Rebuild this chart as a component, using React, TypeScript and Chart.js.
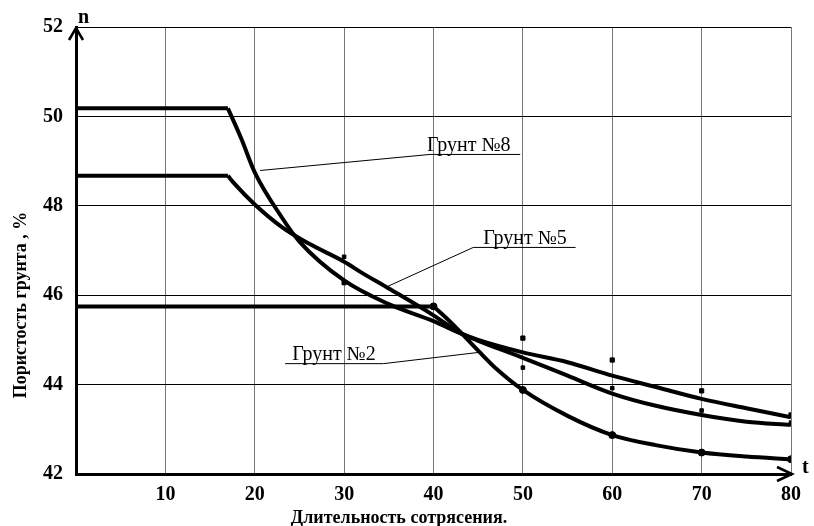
import React, { useEffect, useRef } from "react";
import { Chart, registerables } from "chart.js";

Chart.register(...registerables);

// Curve Грунт №8
const t8 = [0, 17, 18.5, 20, 23, 25, 30, 35, 40, 43, 45, 50, 55, 60, 65, 70, 75, 80];
const n8 = [50.18, 50.18, 49.5, 48.75, 47.75, 47.2, 46.33, 45.8, 45.42, 45.15, 45.0, 44.72, 44.5, 44.2, 43.94, 43.68, 43.47, 43.27];
// Curve Грунт №5
const t5 = [0, 17, 17.7, 20, 23, 26, 30, 32, 35, 40, 43, 45, 50, 55, 60, 65, 70, 75, 80];
const n5 = [48.67, 48.67, 48.5, 48.03, 47.53, 47.16, 46.75, 46.5, 46.15, 45.55, 45.15, 44.98, 44.6, 44.2, 43.8, 43.52, 43.32, 43.17, 43.1];
// Curve Грунт №2
const t2 = [0, 40, 42, 45, 47, 50, 55, 60, 65, 70, 75, 80];
const n2 = [45.75, 45.75, 45.38, 44.76, 44.36, 43.88, 43.3, 42.87, 42.64, 42.48, 42.39, 42.33];

// Measured points
const mt8 = [30, 50, 60, 70, 80];
const mn8 = [46.28, 45.04, 44.55, 43.86, 43.32];
const mt5 = [30, 50, 60, 70, 80];
const mn5 = [46.86, 44.38, 43.92, 43.42, 43.15];
const mt2 = [40, 50, 60, 70, 80];
const mn2 = [45.75, 43.88, 42.87, 42.48, 42.33];

const xTicks = [10, 20, 30, 40, 50, 60, 70, 80];
const yTicks = [42, 44, 46, 48, 50, 52];

const xTitle = "Длительность сотрясения.";
const yTitle = "Пористость грунта , %";

// Annotation labels
const labels = [
  { text: "Грунт №8", t0: 39.6, t1: 49.7, n: 49.16, tt: 20.6, tn: 48.79, from: "left", dx: -3 },
  { text: "Грунт №5", t0: 44.45, t1: 55.9, n: 47.08, tt: 34.8, tn: 46.19, from: "left", dx: 10 },
  { text: "Грунт №2", t0: 23.4, t1: 34.4, n: 44.48, tt: 45.05, tn: 44.72, from: "right", dx: 7 },
];

const zip = (xs: number[], ys: number[]) => xs.map((x, i) => ({ x, y: ys[i] }));

const decor = {
  id: "decor",
  afterDraw(chart: any) {
    const ctx = chart.ctx;
    const xs = chart.scales.x;
    const ys = chart.scales.y;
    const a = chart.chartArea;
    ctx.save();
    ctx.strokeStyle = "#000";
    ctx.fillStyle = "#000";
    ctx.lineWidth = 1;
    ctx.font = "20px 'Liberation Serif'";
    ctx.textBaseline = "alphabetic";
    for (const l of labels) {
      const x0 = xs.getPixelForValue(l.t0);
      const x1 = xs.getPixelForValue(l.t1);
      const y = ys.getPixelForValue(l.n);
      ctx.beginPath();
      ctx.moveTo(x0, y + 0.5);
      ctx.lineTo(x1, y + 0.5);
      ctx.stroke();
      const sx = l.from === "left" ? x0 : x1;
      ctx.beginPath();
      ctx.moveTo(sx, y + 0.5);
      ctx.lineTo(xs.getPixelForValue(l.tt), ys.getPixelForValue(l.tn));
      ctx.stroke();
      ctx.fillText(l.text, x0 + l.dx, y - 3);
    }
    ctx.lineWidth = 2.5;
    ctx.beginPath();
    ctx.moveTo(a.left - 7, a.top + 13);
    ctx.lineTo(a.left, a.top + 1);
    ctx.lineTo(a.left + 7, a.top + 13);
    ctx.stroke();
    ctx.beginPath();
    ctx.moveTo(a.right - 14, a.bottom - 7);
    ctx.lineTo(a.right + 1, a.bottom);
    ctx.lineTo(a.right - 14, a.bottom + 7);
    ctx.stroke();
    ctx.font = "bold 20px 'Liberation Serif'";
    ctx.textAlign = "left";
    ctx.fillText("n", a.left + 2, a.top - 4);
    ctx.fillText("t", a.right + 11, a.bottom - 1);
    ctx.font = "bold 18px 'Liberation Serif'";
    ctx.textAlign = "center";
    ctx.fillText(xTitle, 399, 523);
    ctx.translate(26, 305);
    ctx.rotate(-Math.PI / 2);
    ctx.fillText(yTitle, 0, 0);
    ctx.restore();
  },
};

export default function App() {
  const ref = useRef<HTMLCanvasElement>(null);
  useEffect(() => {
    const lineDs = (label: string, xs: number[], ys: number[], corner: number) => {
      const k = xs.indexOf(corner);
      return [
        {
          label: label + " (участок)",
          data: zip(xs.slice(0, k + 1), ys.slice(0, k + 1)),
          borderColor: "#000",
          borderWidth: 4,
          pointRadius: 0,
          showLine: true,
          tension: 0,
        },
        {
          label,
          data: zip(xs.slice(k), ys.slice(k)),
          borderColor: "#000",
          borderWidth: 4,
          pointRadius: 0,
          showLine: true,
          cubicInterpolationMode: "monotone",
          borderJoinStyle: "round",
        },
      ];
    };
    const markDs = (label: string, xs: number[], ys: number[], style: string, r: number) => ({
      label,
      data: zip(xs, ys),
      showLine: false,
      pointStyle: style,
      pointRadius: r,
      pointBackgroundColor: "#000",
      pointBorderColor: "#000",
      pointBorderWidth: 1,
    });
    const chart = new Chart(ref.current!, {
      type: "scatter",
      data: {
        datasets: [
          ...lineDs("Грунт №8", t8, n8, 17),
          ...lineDs("Грунт №5", t5, n5, 17),
          ...lineDs("Грунт №2", t2, n2, 40),
          markDs("№8 точки", mt8, mn8, "rect", 3),
          markDs("№5 точки", mt5, mn5, "rect", 2.5),
          markDs("№2 точки", mt2, mn2, "circle", 3.5),
        ] as any,
      },
      options: {
        animation: false,
        responsive: false,
        layout: { padding: { top: 27, right: 23, left: 0, bottom: 0 } },
        plugins: { legend: { display: false }, tooltip: { enabled: false } },
        scales: {
          x: {
            type: "linear",
            min: 0,
            max: 80,
            afterFit: (s: any) => { s.height = 52; },
            afterBuildTicks: (s: any) => { s.ticks = [0, ...xTicks].map((v) => ({ value: v })); },
            ticks: {
              callback: (v: any) => (v === 0 ? "" : String(v)),
              font: { family: "'Liberation Serif'", size: 20, weight: "bold" },
              color: "#000",
              padding: 9,
              maxRotation: 0,
            },
            grid: { color: "#777", lineWidth: 1, drawTicks: false },
            border: { display: true, color: "#000", width: 3 },
          },
          y: {
            type: "linear",
            min: 42,
            max: 52,
            afterFit: (s: any) => { s.width = 76; },
            afterBuildTicks: (s: any) => { s.ticks = yTicks.map((v) => ({ value: v })); },
            ticks: {
              font: { family: "'Liberation Serif'", size: 20, weight: "bold" },
              color: "#000",
              padding: 13,
            },
            grid: { color: "#000", lineWidth: 1, drawTicks: false },
            border: { display: true, color: "#000", width: 3 },
          },
        },
      },
      plugins: [decor],
    });
    return () => chart.destroy();
  }, []);
  return (
    <div style={{ position: "absolute", left: 0, top: 0, width: 814, height: 526, background: "#fff" }}>
      <canvas ref={ref} width={814} height={526} />
    </div>
  );
}
